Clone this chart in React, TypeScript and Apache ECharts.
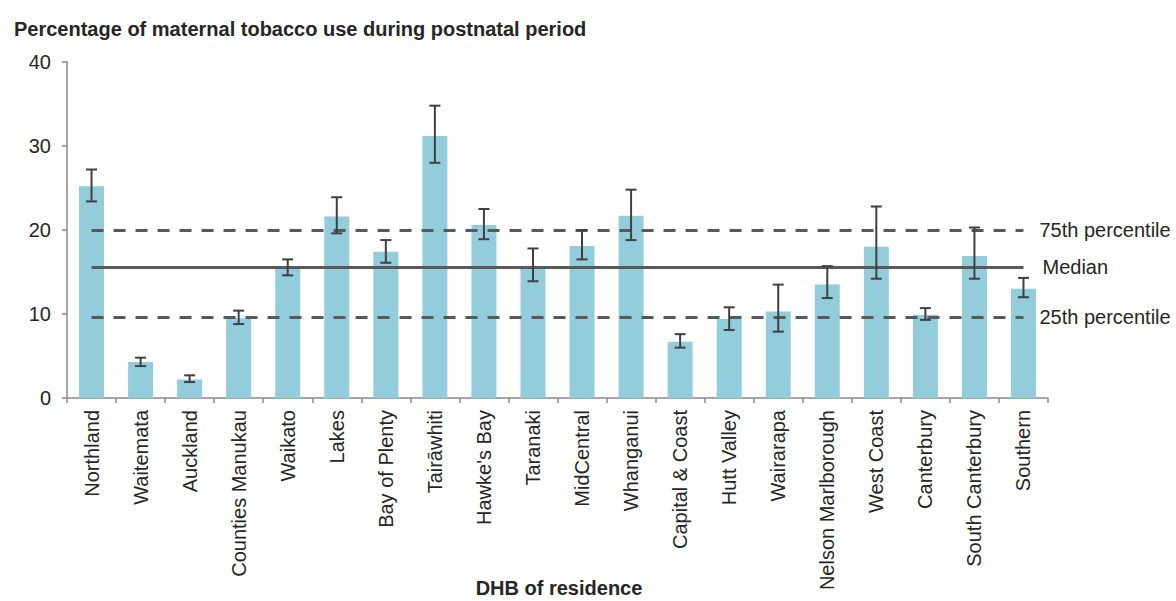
import React, { useEffect, useRef } from "react";
import * as echarts from "echarts";

const categories = [
  "Northland", "Waitemata", "Auckland", "Counties Manukau", "Waikato", "Lakes",
  "Bay of Plenty", "Tairāwhiti", "Hawke's Bay", "Taranaki", "MidCentral", "Whanganui",
  "Capital & Coast", "Hutt Valley", "Wairarapa", "Nelson Marlborough", "West Coast",
  "Canterbury", "South Canterbury", "Southern",
];
const values = [25.2, 4.3, 2.2, 9.5, 15.6, 21.6, 17.4, 31.2, 20.6, 15.7, 18.1, 21.7, 6.7, 9.4, 10.3, 13.5, 18.0, 9.9, 16.9, 13.0];
const lower = [23.4, 3.8, 1.9, 8.8, 14.6, 19.6, 16.1, 28.0, 18.9, 13.9, 16.5, 18.8, 6.0, 8.1, 7.9, 11.9, 14.2, 9.3, 14.2, 12.0];
const upper = [27.2, 4.8, 2.7, 10.4, 16.5, 23.9, 18.8, 34.8, 22.5, 17.8, 20.0, 24.8, 7.6, 10.8, 13.5, 15.7, 22.8, 10.7, 20.3, 14.3];
const percentile75 = 20.0;
const median = 15.6;
const percentile25 = 9.6;
const yTicks = [0, 10, 20, 30, 40];

const FONT = "'Liberation Sans', Arial, sans-serif";
const TEXT = "#262626";

export default function App() {
  const ref = useRef<HTMLDivElement>(null);
  useEffect(() => {
    document.body.style.margin = "0";
    const chart = echarts.init(ref.current!, null, { renderer: "svg" });
    const errData = categories.map((c, i) => [i, lower[i], upper[i]]);
    const first = categories[0];
    const last = categories[categories.length - 1];
    const refLine = (v: number, name: string, dashed: boolean, dist: number) => [
      {
        coord: [first, v],
        lineStyle: { color: "#595959", width: 3, type: dashed ? [12, 10] : "solid" },
        label: { show: true, position: "end", formatter: name, distance: dist, color: TEXT, fontSize: 20, fontFamily: FONT },
      },
      { coord: [last, v] },
    ];
    chart.setOption({
      animation: false,
      textStyle: { fontFamily: FONT },
      title: {
        text: "Percentage of maternal tobacco use during postnatal period",
        left: 9,
        top: 14,
        textStyle: { fontSize: 20, fontWeight: "bold", color: TEXT, fontFamily: FONT },
      },
      grid: { left: 67, right: 128, top: 62, bottom: 203, containLabel: false },
      xAxis: {
        type: "category",
        data: categories,
        axisLine: { lineStyle: { color: "#898989", width: 1.5 } },
        axisTick: { show: true, length: 5, lineStyle: { color: "#898989", width: 1.5 } },
        axisLabel: { rotate: 90, interval: 0, margin: 12, fontSize: 20, color: TEXT, fontFamily: FONT },
      },
      yAxis: {
        type: "value",
        min: 0,
        max: 40,
        interval: 10,
        splitLine: { show: false },
        axisLine: { show: true, lineStyle: { color: "#898989", width: 1.5 } },
        axisTick: { show: true, length: 5, lineStyle: { color: "#898989", width: 1.5 } },
        axisLabel: {
          margin: 16,
          fontSize: 20,
          color: TEXT,
          fontFamily: FONT,
          formatter: (v: number) => (yTicks.includes(v) ? String(v) : ""),
        },
      },
      graphic: [
        {
          type: "text",
          x: 559,
          y: 588,
          style: {
            text: "DHB of residence",
            fontSize: 20,
            fontWeight: "bold",
            fill: TEXT,
            fontFamily: FONT,
            textAlign: "center",
            textVerticalAlign: "middle",
          },
        },
      ],
      series: [
        {
          type: "bar",
          data: values,
          barWidth: 25,
          itemStyle: { color: "#93CDDC" },
          z: 2,
          markLine: {
            silent: true,
            symbol: "none",
            z: 3,
            data: [
              refLine(percentile75, "75th percentile", true, 16),
              refLine(median, "Median", false, 19),
              refLine(percentile25, "25th percentile", true, 16),
            ],
          },
        },
        {
          type: "custom",
          z: 5,
          data: errData,
          encode: { x: 0, y: [1, 2] },
          renderItem: (params: any, api: any) => {
            const x = api.value(0);
            const top = api.coord([x, api.value(2)]);
            const bot = api.coord([x, api.value(1)]);
            const hw = 5.5;
            const style = { stroke: "#404040", lineWidth: 2 };
            return {
              type: "group",
              children: [
                { type: "line", shape: { x1: top[0], y1: top[1], x2: bot[0], y2: bot[1] }, style },
                { type: "line", shape: { x1: top[0] - hw, y1: top[1], x2: top[0] + hw, y2: top[1] }, style },
                { type: "line", shape: { x1: bot[0] - hw, y1: bot[1], x2: bot[0] + hw, y2: bot[1] }, style },
              ],
            };
          },
        },
      ],
    });
    return () => chart.dispose();
  }, []);
  return <div ref={ref} style={{ width: 1176, height: 601, position: "absolute", left: 0, top: 0 }} />;
}
